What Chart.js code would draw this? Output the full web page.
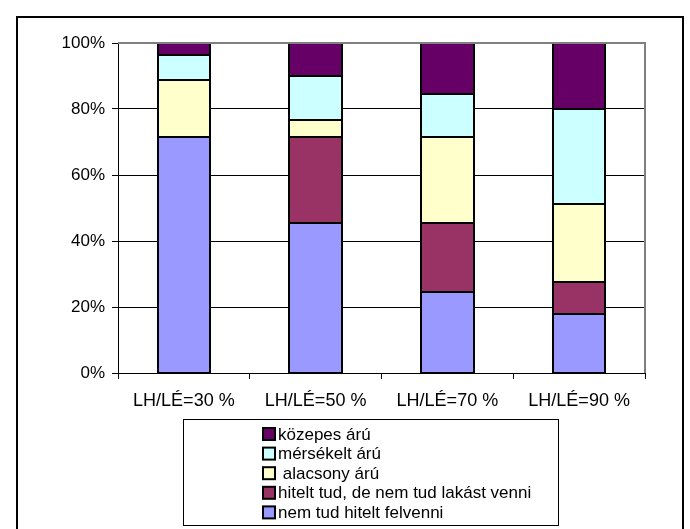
<!DOCTYPE html>
<html>
<head>
<meta charset="utf-8">
<script src="https://cdn.jsdelivr.net/npm/chart.js@4"></script>
<style>
html,body{margin:0;padding:0;background:#fff;}
#wrap{position:relative;width:690px;height:529px;}
</style>
</head>
<body>
<div id="wrap"><canvas id="c" width="690" height="529"></canvas></div>
<script>
const categories = ['LH/LÉ=30 %', 'LH/LÉ=50 %', 'LH/LÉ=70 %', 'LH/LÉ=90 %'];
const seriesNames = ['nem tud hitelt felvenni', 'hitelt tud, de nem tud lakást venni', ' alacsony árú', 'mérsékelt árú', 'közepes árú'];
const seriesColors = ['#9999FF', '#993366', '#FFFFCC', '#CCFFFF', '#660066'];
const nemTud    = [71.5, 45.4, 24.5, 17.8];
const hiteltTud = [0.0, 26.0, 21.1, 9.7];
const alacsony  = [17.4, 5.4, 25.8, 23.7];
const mersekelt = [7.4, 13.1, 13.2, 28.8];
const kozepes   = [3.7, 10.1, 15.4, 20.0];
const yTicks = [0, 20, 40, 60, 80, 100];

const seriesValues = [nemTud, hiteltTud, alacsony, mersekelt, kozepes];
const FONT = 'Liberation Sans, Arial, sans-serif';

const framePlugin = {
  id: 'frame',
  beforeDraw(chart) {
    const ctx = chart.ctx;
    ctx.save();
    ctx.fillStyle = '#fff';
    ctx.fillRect(0, 0, chart.width, chart.height);
    ctx.strokeStyle = '#000';
    ctx.lineWidth = 2;
    ctx.beginPath();
    ctx.moveTo(17, 540); ctx.lineTo(17, 17); ctx.lineTo(683, 17); ctx.lineTo(683, 540);
    ctx.stroke();
    ctx.restore();
  },
  afterDatasetsDraw(chart) {
    const ctx = chart.ctx, a = chart.chartArea;
    ctx.save();
    // outline every segment using the library's element geometry
    ctx.strokeStyle = '#000';
    ctx.lineWidth = 2;
    chart.data.datasets.forEach((d, i) => {
      chart.getDatasetMeta(i).data.forEach((el, j) => {
        if (!d.data[j]) return;
        const left = Math.round(el.x - el.width / 2), right = Math.round(el.x + el.width / 2);
        const top = Math.round(el.y), bottom = Math.round(el.base);
        ctx.strokeRect(left, top, right - left, bottom - top);
      });
    });
    ctx.strokeStyle = '#808080';
    ctx.lineWidth = 2;
    ctx.beginPath();
    ctx.moveTo(a.left, a.top); ctx.lineTo(a.right, a.top); ctx.lineTo(a.right, a.bottom);
    ctx.stroke();
    ctx.restore();
  },
  afterDraw(chart) {
    const ctx = chart.ctx;
    ctx.save();
    const bx = 183, by = 419, bw = 375, bh = 106;
    ctx.strokeStyle = '#000';
    ctx.lineWidth = 1;
    ctx.strokeRect(bx + 0.5, by + 0.5, bw, bh);
    ctx.font = '17px ' + FONT;
    ctx.textBaseline = 'middle';
    const ds = chart.data.datasets;
    let row = 0;
    for (let i = ds.length - 1; i >= 0; i--) {
      const cy = 434 + row * 19.6;
      ctx.fillStyle = ds[i].backgroundColor;
      ctx.fillRect(263, cy - 6, 12, 12);
      ctx.strokeStyle = '#000';
      ctx.lineWidth = 2;
      ctx.strokeRect(263, cy - 6, 12, 12);
      ctx.fillStyle = '#000';
      ctx.fillText(ds[i].label, 278, cy + 1);
      row++;
    }
    ctx.restore();
  }
};

new Chart(document.getElementById('c'), {
  type: 'bar',
  data: {
    labels: categories,
    datasets: seriesValues.map((v, i) => ({
      label: seriesNames[i],
      data: v,
      backgroundColor: seriesColors[i],
      borderWidth: 0,
      inflateAmount: 0,
      barPercentage: 0.4,
      categoryPercentage: 1.0
    }))
  },
  options: {
    responsive: false,
    animation: false,
    layout: { padding: { left: 0, right: 45, top: 43, bottom: 111 } },
    plugins: { legend: { display: false }, tooltip: { enabled: false } },
    scales: {
      x: {
        stacked: true,
        offset: true,
        afterFit(s) { s.height = 45; },
        grid: { offset: true, drawOnChartArea: false, color: '#000', tickColor: '#000', tickLength: 6, lineWidth: 1 },
        border: { color: '#000', width: 1 },
        ticks: { color: '#000', font: { family: FONT, size: 18 }, padding: 11, maxRotation: 0 }
      },
      y: {
        stacked: true,
        min: 0, max: 100,
        afterFit(s) { s.width = 118; },
        afterBuildTicks(s) { s.ticks = yTicks.map(v => ({ value: v })); },
        grid: {
          color: ctx => (ctx.tick && ctx.tick.value === 100) ? 'rgba(0,0,0,0)' : '#000',
          tickColor: '#000', tickLength: 6, lineWidth: 1
        },
        border: { color: '#000', width: 1 },
        ticks: { color: '#000', font: { family: FONT, size: 17 }, padding: 7, callback: v => v + '%' }
      }
    }
  },
  plugins: [framePlugin]
});
</script>
</body>
</html>
